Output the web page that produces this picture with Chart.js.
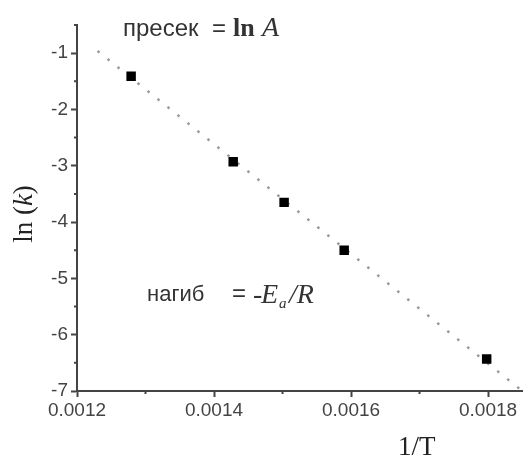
<!DOCTYPE html>
<html>
<head>
<meta charset="utf-8">
<script src="https://cdn.jsdelivr.net/npm/chart.js@4"></script>
<style>
  body { margin: 0; background: #fff; }
  canvas { display: block; }
</style>
</head>
<body>
<canvas id="chart" width="529" height="460"></canvas>
<script>
let invT = [0.001279, 0.001428, 0.0015023, 0.00159, 0.001798];
let lnK = [-1.41, -2.93, -3.65, -4.50, -6.43];

// dotted fit line, two ends
let fitX = [0.00123, 0.001846];
let fitY = [-0.96, -6.96];

let xTicksMajor = [0.0012, 0.0014, 0.0016, 0.0018];
let yTicksMajor = [-1, -2, -3, -4, -5, -6, -7];

let sans = "'Liberation Sans', Arial, sans-serif";
let serif = "'Liberation Serif', 'Times New Roman', serif";
let axisColor = "#444";

function xKind(v) {
  let n = Math.round(v * 1e4);
  if (Math.abs(v * 1e4 - n) > 1e-6) return "none";
  return xTicksMajor.some(t => Math.abs(t - v) < 1e-9) ? "major" : "minor";
}

function yKind(v) {
  if (yTicksMajor.some(t => Math.abs(t - v) < 1e-9)) return "major";
  return Math.abs(v * 2 - Math.round(v * 2)) < 1e-9 ? "minor" : "none";
}

function toPoints(xs, ys) {
  return xs.map((x, i) => ({ x: x, y: ys[i] }));
}

function drawRun(ctx, x, y, text, font, color) {
  ctx.font = font;
  ctx.fillStyle = color || "#333";
  ctx.fillText(text, x, y);
}

let extras = {
  id: "extras",
  afterDraw(chart) {
    let ctx = chart.ctx;
    let xs = chart.scales.x;
    let ys = chart.scales.y;
    ctx.save();

    // short minor ticks
    ctx.strokeStyle = axisColor;
    ctx.lineWidth = 2;
    ctx.beginPath();
    xs.ticks.forEach((t, i) => {
      if (xKind(t.value) !== "minor") return;
      let px = xs.getPixelForTick(i);
      ctx.moveTo(px, xs.top);
      ctx.lineTo(px, xs.top + 3);
    });
    ys.ticks.forEach((t, i) => {
      if (yKind(t.value) !== "minor") return;
      let py = ys.getPixelForTick(i);
      ctx.moveTo(ys.right, py);
      ctx.lineTo(ys.right - 3, py);
    });
    ctx.stroke();

    ctx.textBaseline = "alphabetic";
    ctx.textAlign = "left";

    // intercept text
    drawRun(ctx, 123, 36, "пресек", "24px " + sans);
    drawRun(ctx, 212, 36, "=", "24px " + sans);
    drawRun(ctx, 233, 36, "ln", "bold 26px " + serif);
    drawRun(ctx, 262, 36, "A", "italic 28px " + serif);

    // slope text
    drawRun(ctx, 147, 301, "нагиб", "22px " + sans);
    drawRun(ctx, 232, 301, "=", "24px " + sans);
    drawRun(ctx, 253, 303, "-", "italic 28px " + serif);
    drawRun(ctx, 261, 303, "E", "italic 28px " + serif);
    drawRun(ctx, 279, 308, "a", "italic 15px " + serif);
    drawRun(ctx, 289, 303, "/R", "italic 28px " + serif);

    // axis titles
    drawRun(ctx, 398, 455, "1/T", "27px " + serif, "#222");

    ctx.translate(32, 214);
    ctx.rotate(-Math.PI / 2);
    ctx.font = "27px " + serif;
    let w1 = ctx.measureText("ln (").width;
    ctx.font = "italic 27px " + serif;
    let w2 = ctx.measureText("k").width;
    ctx.font = "27px " + serif;
    let w3 = ctx.measureText(")").width;
    let x0 = -(w1 + w2 + w3) / 2;
    drawRun(ctx, x0, 0, "ln (", "27px " + serif, "#222");
    drawRun(ctx, x0 + w1, 0, "k", "italic 27px " + serif, "#222");
    drawRun(ctx, x0 + w1 + w2, 0, ")", "27px " + serif, "#222");

    ctx.restore();
  }
};

let ctx = document.getElementById("chart").getContext("2d");
window.myChart = new Chart(ctx, {
  type: "scatter",
  data: {
    datasets: [
      {
        label: "ln k",
        data: toPoints(invT, lnK),
        pointStyle: "rect",
        pointRadius: 6.7,
        pointHoverRadius: 6.7,
        backgroundColor: "#000",
        borderWidth: 0
      },
      {
        label: "fit",
        type: "line",
        data: toPoints(fitX, fitY),
        borderColor: "#999",
        borderWidth: 2.5,
        borderDash: [2.5, 10.3],
        pointRadius: 0,
        fill: false
      }
    ]
  },
  options: {
    responsive: false,
    animation: false,
    devicePixelRatio: 1,
    layout: {
      padding: { top: 25, right: 1, left: 0, bottom: 0 }
    },
    plugins: {
      legend: { display: false },
      tooltip: { enabled: false }
    },
    scales: {
      x: {
        type: "linear",
        min: 0.0012,
        max: 0.00185,
        afterFit: function(s) { s.height = 69; },
        border: { color: axisColor, width: 2 },
        grid: {
          drawOnChartArea: false,
          tickLength: 6,
          tickWidth: 2,
          tickColor: c => (c.tick && xKind(c.tick.value) === "major") ? axisColor : "rgba(0,0,0,0)"
        },
        ticks: {
          stepSize: 0.0001,
          includeBounds: false,
          autoSkip: false,
          maxRotation: 0,
          padding: 2,
          color: axisColor,
          font: { family: sans, size: 19 },
          callback: v => xKind(v) === "major" ? v.toFixed(4) : ""
        }
      },
      y: {
        min: -7,
        max: -0.5,
        afterFit: function(s) { s.width = 77; },
        border: { color: axisColor, width: 2 },
        grid: {
          drawOnChartArea: false,
          tickLength: 6,
          tickWidth: 2,
          tickColor: c => (c.tick && yKind(c.tick.value) === "major") ? axisColor : "rgba(0,0,0,0)"
        },
        ticks: {
          stepSize: 0.5,
          autoSkip: false,
          padding: 3,
          color: axisColor,
          font: { family: sans, size: 19 },
          callback: v => yKind(v) === "major" ? String(v) : ""
        }
      }
    }
  },
  plugins: [extras]
});
</script>
</body>
</html>
